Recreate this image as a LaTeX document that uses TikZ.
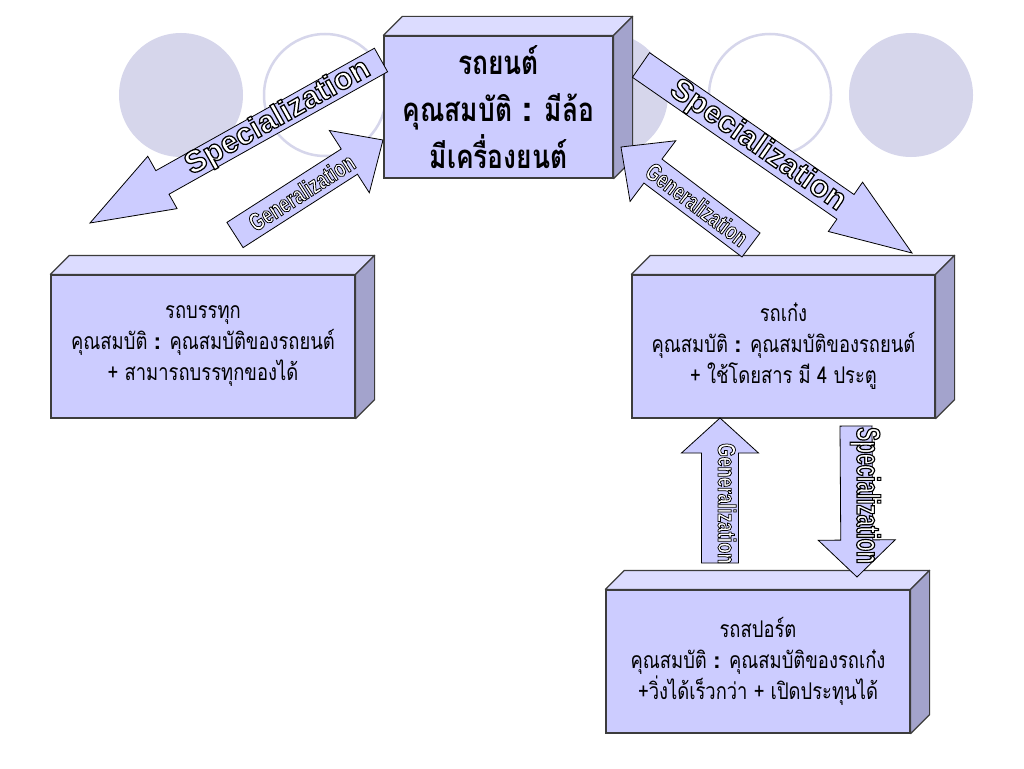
\documentclass[tikz,border=0pt]{standalone}
\usepackage{fontspec}
\usetikzlibrary{calc}
\newfontfamily\thaifont[Script=Thai,FakeStretch=0.8]{Loma}
\newfontfamily\colonfont{Liberation Sans Bold}
\newfontfamily\specfont{Liberation Sans Bold}[FakeBold=4]
\newfontfamily\narrowfont{Liberation Sans Bold}[FakeStretch=0.7,FakeBold=3]
\newfontfamily\tallfont{Liberation Sans Bold}[FakeStretch=0.62,FakeBold=3.5]
\definecolor{boxfront}{RGB}{204,204,255}
\definecolor{boxtop}{RGB}{220,220,255}
\definecolor{boxside}{RGB}{163,163,204}
\definecolor{ring}{RGB}{214,214,235}
\definecolor{edge}{RGB}{60,60,60}
% white letters with a black rim (fill white, stroke black)
\newcommand{\wordart}[2]{{\color{white}\special{pdf:literal direct 0 0 0 RG}#1#2}}
% top and right faces of a box node
\newcommand{\cubefaces}[1]{%
 \draw[topface] (#1.north west) -- ++(19,-19) -- ($(#1.north east)+(19,-19)$) -- (#1.north east) -- cycle;
 \draw[sideface] (#1.north east) -- ++(19,-19) -- ($(#1.south east)+(19,-19)$) -- (#1.south east) -- cycle;}
% block arrow: tail, tip, half shaft, head length, half head
\newcommand{\blockarrow}[5]{%
 \path let \p1=($(#2)-(#1)$) in
  \pgfextra{\pgfmathsetmacro\arrang{atan2(\y1,\x1)}\pgfmathsetmacro\arrlen{veclen(\x1,\y1)}%
   \xdef\barang{\arrang}\xdef\barlen{\arrlen}};
 \begin{scope}[shift={(#1)},rotate=\barang,x=1pt,y=1pt]
  \draw[arrowbody] (0,#3) -- (\barlen-#4,#3) -- (\barlen-#4,#5) -- (\barlen,0)
   -- (\barlen-#4,-#5) -- (\barlen-#4,-#3) -- (0,-#3) -- cycle;
 \end{scope}}
\begin{document}
\begin{tikzpicture}[x=1pt,y=-1pt,
 cube/.style={draw=edge,line width=1.2pt,fill=boxfront,inner sep=0pt,align=center},
 topface/.style={draw=edge,line width=1.2pt,fill=boxtop,line join=round},
 sideface/.style={draw=edge,line width=1.2pt,fill=boxside,line join=round},
 arrowbody/.style={draw=black,line width=0.8pt,fill=boxfront},
 bigthai/.style={font=\thaifont\bfseries\fontsize{33}{47}\selectfont},
 smallthai/.style={font=\thaifont\fontsize{23}{31}\selectfont},
 speclbl/.style={inner sep=0pt,font=\fontsize{31}{31}\selectfont},
 genlbl/.style={inner sep=0pt,font=\fontsize{25}{25}\selectfont},
 tallbl/.style={inner sep=0pt,font=\fontsize{33}{33}\selectfont}]
\useasboundingbox[fill=white] (0,0) rectangle (1024,768);
% background circles
\foreach \cx in {181,606,911} \fill[ring] (\cx,95) circle (62);
\foreach \cx in {325,770} \draw[ring,line width=2.5pt] (\cx,95) circle (61);
% boxes
\node[cube,bigthai,minimum width=229,minimum height=142] (car) at (498.5,107)
 {รถยนต์\\คุณสมบัติ {\colonfont\fontsize{36}{47}\selectfont:} มีล้อ\\มีเครื่องยนต์};
\node[cube,smallthai,minimum width=304,minimum height=143] (truck) at (203,346.5)
 {รถบรรทุก\\คุณสมบัติ {\colonfont\fontsize{23}{31}\selectfont:} คุณสมบัติของรถยนต์\\+ สามารถบรรทุกของได้};
\node[cube,smallthai,minimum width=303,minimum height=143] (sedan) at (783.5,346.5)
 {รถเก๋ง\\คุณสมบัติ {\colonfont\fontsize{23}{31}\selectfont:} คุณสมบัติของรถยนต์\\+ ใช้โดยสาร มี 4 ประตู};
\node[cube,smallthai,minimum width=304,minimum height=143] (sports) at (758,661.5)
 {รถสปอร์ต\\คุณสมบัติ {\colonfont\fontsize{23}{31}\selectfont:} คุณสมบัติของรถเก๋ง\\+วิ่งได้เร็วกว่า + เปิดประทุนได้};
\cubefaces{car}
\cubefaces{truck}
\cubefaces{sedan}
\cubefaces{sports}
% arrow ends
\coordinate (a1s) at (381,60);  \coordinate (a1e) at (90,223);
\coordinate (a2s) at (235,235); \coordinate (a2e) at (383,140);
\coordinate (a3s) at (641,65);  \coordinate (a3e) at (912,253);
\coordinate (a4s) at (751,245); \coordinate (a4e) at (621,147);
\coordinate (a5s) at (720,563); \coordinate (a5e) at (720,418);
\coordinate (a6s) at (856,426); \coordinate (a6e) at (857,577);
\blockarrow{a1s}{a1e}{13.5}{83}{30}
\blockarrow{a2s}{a2e}{15}{40}{37}
\blockarrow{a3s}{a3e}{15}{81}{30}
\blockarrow{a4s}{a4e}{15}{40}{38}
\blockarrow{a5s}{a5e}{18.5}{35}{38.5}
\blockarrow{a6s}{a6e}{16}{37}{38.5}
% arrow texts
\path (a1s) -- (a1e) node[speclbl,pos=0.354,sloped] (l1) {\wordart{\specfont}{Specialization}};
\path (a2s) -- (a2e) node[genlbl,pos=0.45,sloped] (l2) {\wordart{\narrowfont}{Generalization}};
\path (a3s) -- (a3e) node[speclbl,pos=0.43,sloped] (l3) {\wordart{\specfont}{Specialization}};
\path (a4s) -- (a4e) node[genlbl,pos=0.415,sloped] (l4) {\wordart{\narrowfont}{Generalization}};
\node[genlbl,rotate=-90] (l5) at ($(a5s)!0.41!(a5e)+(7,0)$) {\wordart{\narrowfont}{Generalization}};
\node[tallbl,rotate=-90] (l6) at ($(a6s)!0.46!(a6e)+(9,0)$) {\wordart{\tallfont}{Specialization}};
\end{tikzpicture}
\end{document}
